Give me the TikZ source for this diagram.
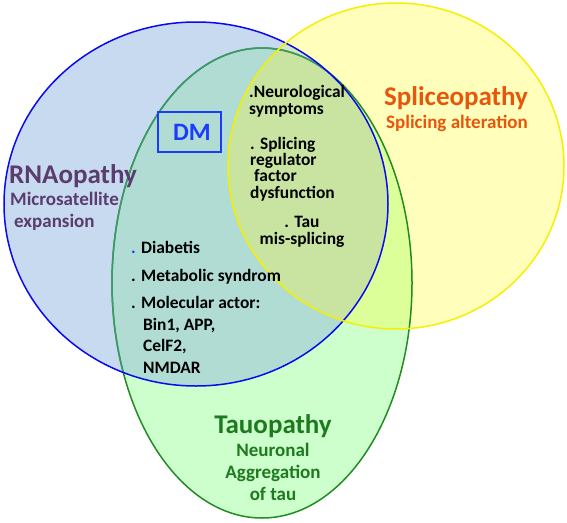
\documentclass[tikz,border=0pt]{standalone}
\usepackage{fontspec}
\setmainfont{Carlito}
\usetikzlibrary{positioning}

\definecolor{rnafill}{HTML}{C8DAF0}
\definecolor{taufill}{HTML}{CCFFCC}
\definecolor{splicefill}{HTML}{FFFFBB}
\definecolor{rnataufill}{HTML}{B0DCD4}
\definecolor{splicetaufill}{HTML}{DDFF99}
\definecolor{rnasplicefill}{HTML}{D4E6C0}
\definecolor{allfill}{HTML}{C8E4A0}
\definecolor{rnaline}{HTML}{0A0AF0}
\definecolor{spliceline}{HTML}{F5F000}
\definecolor{tauline}{HTML}{228B22}
\definecolor{tauinner}{HTML}{3C9A6A}
\definecolor{rnatext}{HTML}{5A3C6E}
\definecolor{splicetext}{HTML}{E8560C}
\definecolor{tautext}{HTML}{1F7A1F}
\definecolor{dmblue}{HTML}{1A3CFF}

\newcommand\rnashape{(196,204) ellipse [x radius=192, y radius=182]}
\newcommand\spliceshape{(396,166) ellipse [x radius=168, y radius=163]}
\newcommand\taushape{(262,283) ellipse [x radius=150, y radius=235]}

\begin{document}
\begin{tikzpicture}[
            x=1pt, y=-1pt,
            ring/.style={line width=1.5pt},
            body/.style={
                inner sep=0pt,
                align=left,
                font=\fontsize{17.4}{16.2}\selectfont\bfseries
            },
            title/.style={
                inner sep=0pt,
                font=\fontsize{27}{30}\selectfont\bfseries
            },
            subtitle/.style={
                inner sep=0pt,
                font=\fontsize{19}{22}\selectfont\bfseries
            }
        ]
            \useasboundingbox (0,0) rectangle (567,522);

            % filled areas
            \fill[rnafill] \rnashape;
            \fill[taufill] \taushape;
            \fill[splicefill] \spliceshape;
            \begin{scope}
                \clip \rnashape;
                \fill[rnataufill] \taushape;
                \fill[rnasplicefill] \spliceshape;
            \end{scope}
            \begin{scope}
                \clip \taushape;
                \fill[splicetaufill] \spliceshape;
                \clip \rnashape;
                \fill[allfill] \spliceshape;
            \end{scope}

            % outlines
            \draw[ring, tauline] \taushape;
            \begin{scope}
                \clip \rnashape;
                \draw[ring, tauinner] \taushape;
            \end{scope}
            \draw[ring, rnaline] \rnashape;
            \draw[ring, spliceline] \spliceshape;

            % DM box
            \node[draw=dmblue, line width=1.8pt, minimum width=63pt,
                minimum height=40pt, inner sep=0pt, text=dmblue,
                font=\fontsize{25}{28}\selectfont\bfseries] (dm) at (189.5,132) {\hspace{5pt}DM};

            % group labels (multi-line nodes sit on their last baseline)
            \node[title, text=rnatext, anchor=base west] (rna) at (9,183) {RNAopathy};
            \node[subtitle, text=rnatext, anchor=base west, align=left] (rnasub) at (10,227) {Microsatellite\\\hspace{4pt}expansion};
            \node[title, text=splicetext, anchor=base east] (splice) at (528,105) {Spliceopathy};
            \node[subtitle, text=splicetext, anchor=base east] (splicesub) at (528,128) {Splicing alteration};
            \node[title, text=tautext, anchor=base] (tau) at (273,433) {Tauopathy};
            \node[subtitle, text=tautext, anchor=base, align=center] (tausub) at (273,500) {Neuronal\\Aggregation\\of tau};

            % items
            \node[body, anchor=base west] (neuro) at (249,114) {.Neurological\\symptoms};
            \node[body, anchor=base west] (splicing) at (250,198) {. Splicing\\regulator\\\hspace{4pt}factor\\dysfunction};
            \node[body, anchor=base, align=center] (missplice) at (302,244) {. Tau\\mis-splicing};
            \node[body, anchor=base west] (diab) at (131,253) {\textcolor{dmblue}{.} Diabetis};
            \node[body, anchor=base west] (metab) at (131,281) {. Metabolic syndrom};
            \node[body, anchor=base west] (actor) at (131,308) {. Molecular actor:};
            \node[body, anchor=base west, font=\fontsize{17.4}{21.5}\selectfont\bfseries] (actors) at (143,373) {Bin1, APP,\\CelF2,\\NMDAR};
        \end{tikzpicture}
\end{document}
